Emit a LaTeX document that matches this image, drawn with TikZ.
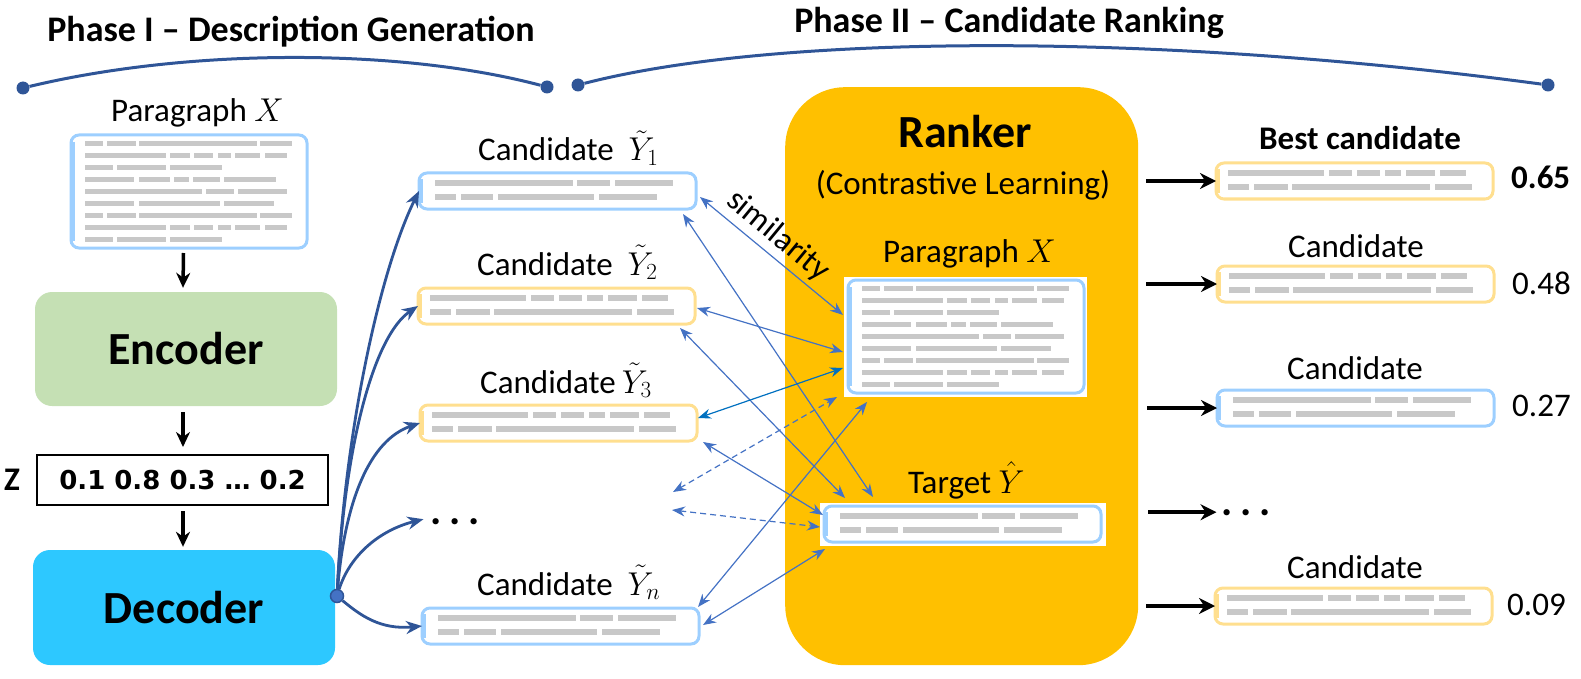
\RequirePackage{fix-cm}
\documentclass[tikz,border=0pt]{standalone}
\usepackage{fontspec}
\setmainfont{Carlito}
\newfontfamily\djv{DejaVu Sans}
\usetikzlibrary{arrows.meta,calc}
\definecolor{bluebd}{HTML}{9DCFFF}
\definecolor{yelbd}{HTML}{FFDF8F}
\definecolor{barc}{HTML}{C8C8C8}
\definecolor{dblue}{HTML}{2F5597}
\definecolor{tblue}{HTML}{4472C4}
\definecolor{dkb}{HTML}{0070C0}
\definecolor{rankc}{HTML}{FFC000}
\definecolor{encg}{HTML}{C5E0B4}
\definecolor{decc}{HTML}{2DC8FF}
% gray bars
\newcommand{\mygb}[3]{\fill[barc] (#1,#3-2.7) rectangle (#2,#3+2.7);}
\newcommand{\mypb}[3]{\fill[barc] (#1,#3-2.4) rectangle (#2,#3+2.4);}
\newcommand{\patA}{\mygb{16}{154}{10}\mygb{158}{191}{10}\mygb{196}{254}{10}%
 \mygb{16}{37}{24}\mygb{42}{74}{24}\mygb{79}{175}{24}\mygb{180}{238}{24}}
\newcommand{\patB}{\mygb{12}{108}{10}\mygb{113}{136}{10}\mygb{141}{164}{10}\mygb{169}{185}{10}\mygb{190}{219}{10}\mygb{224}{250}{10}%
 \mygb{12}{33}{24}\mygb{38}{72}{24}\mygb{76}{214}{24}\mygb{219}{256}{24}}
\newcommand{\rowone}[1]{\mypb{14}{32}{#1}\mypb{36}{65}{#1}\mypb{68}{186}{#1}\mypb{189}{221}{#1}}
\newcommand{\rowtwo}[1]{\mypb{14}{95}{#1}\mypb{99}{119}{#1}\mypb{123}{142}{#1}\mypb{147}{160}{#1}\mypb{164}{189}{#1}\mypb{194}{216}{#1}}
\newcommand{\rowthree}[1]{\mypb{14}{42}{#1}\mypb{46}{95}{#1}\mypb{99}{151}{#1}}
\newcommand{\rowfour}[1]{\mypb{14}{63}{#1}\mypb{68}{99}{#1}\mypb{103}{118}{#1}\mypb{122}{149}{#1}\mypb{153}{205}{#1}}
\newcommand{\rowfive}[1]{\mypb{14}{131}{#1}\mypb{135}{163}{#1}\mypb{167}{216}{#1}}
\newcommand{\rowsix}[1]{\mypb{14}{63}{#1}\mypb{68}{149}{#1}\mypb{153}{203}{#1}}
\newcommand{\parbars}{\rowone{8.5}\rowtwo{20.5}\rowthree{32.5}\rowfour{44.5}\rowfive{56.5}\rowsix{68.5}\rowone{80.5}\rowtwo{92.5}\rowthree{104.5}}
\newcommand{\mydots}{.\hspace{7.5pt}.\hspace{7.5pt}.}
% boxes
\newcommand{\candbox}[5]{%
 \node[cbox, draw=#4] (#1) at (#2,#3) {};
 \draw[#4, line width=3.5pt] ($(#1.north west)+(2.5,6)$) -- ($(#1.south west)+(2.5,-6)$);
 \begin{scope}[shift={(#1.north west)}] #5 \end{scope}}
\newcommand{\docbox}[3]{%
 \node[pbox] (#1) at (#2,#3) {};
 \draw[bluebd, line width=3.5pt] ($(#1.north west)+(2.5,7)$) -- ($(#1.south west)+(2.5,-7)$);
 \begin{scope}[shift={(#1.north west)}] \parbars \end{scope}}
\begin{document}
\begin{tikzpicture}[x=1pt,y=-1pt,
 txt/.style={inner sep=0, font=\fontsize{33}{40}\selectfont},
 btxt/.style={inner sep=0, font=\fontsize{33}{40}\selectfont\bfseries},
 ttl/.style={inner sep=0, font=\fontsize{36}{43}\selectfont\bfseries},
 big/.style={inner sep=0, font=\fontsize{46}{55}\selectfont\bfseries},
 dtxt/.style={inner sep=0, font=\fontsize{42}{42}\selectfont\bfseries},
 cbox/.style={anchor=north west, minimum width=277pt, minimum height=36pt, inner sep=0, outer sep=0, line width=3pt, rounded corners=8pt, fill=white},
 pbox/.style={anchor=north west, draw=bluebd, minimum width=236pt, minimum height=113pt, inner sep=0, outer sep=0, line width=3pt, rounded corners=8pt, fill=white},
 bdot/.style={circle, fill=dblue, inner sep=0, minimum size=13pt},
 brc/.style={draw=dblue, line width=3pt},
 blkarr/.style={line width=3.5pt, -{Stealth[length=15pt,width=14pt]}},
 rarr/.style={line width=4.5pt, -{Stealth[length=16pt,width=16pt]}},
 fan/.style={draw=dblue, line width=2.8pt, -{Stealth[length=16pt,width=13pt]}},
 thinarr/.style={draw=tblue, line width=1.2pt, {Stealth[length=13pt,width=10pt]}-{Stealth[length=13pt,width=10pt]}},
 dsh/.style={dash pattern=on 6pt off 4pt}]
\useasboundingbox (0,0) rectangle (1581,679);

% ---- headers
\node[ttl, anchor=base] (t1) at (291,42) {Phase I – Description Generation};
\node[ttl, anchor=base] (t2) at (1009,33) {Phase II – Candidate Ranking};
\node[bdot] (p1a) at (23,88) {};
\node[bdot] (p1b) at (547,87) {};
\draw[brc] (p1a) .. controls (190,48) and (400,48) .. (p1b);
\node[bdot] (p2a) at (578,85) {};
\node[bdot] (p2b) at (1548,85) {};
\draw[brc] (p2a) .. controls (780,33) and (1160,33) .. (p2b);

% ---- left column
\node[txt, anchor=base west] (lpx) at (111,122) {Paragraph $X$};
\docbox{ldoc}{71}{135}
\node[big, fill=encg, rounded corners=17pt, minimum width=302pt, minimum height=114pt] (enc) at (186,349) {Encoder};
\node[draw, line width=2pt, minimum width=291pt, minimum height=50pt, inner sep=0, font=\djv\bfseries\fontsize{26}{30}\selectfont] (zb) at (182.5,480) {0.1 0.8 0.3 … 0.2};
\node[btxt] (zl) at (12,480) {Z};
\node[big, fill=decc, rounded corners=17pt, minimum width=302pt, minimum height=115pt] (decn) at (184,607.5) {Decoder};
\draw[blkarr] ($(ldoc.south)+(-5.5,5)$) -- ($(enc.north)+(-3,-4)$);
\draw[blkarr] ($(enc.south)+(-3,6)$) -- ($(zb.north)+(0.5,-7)$);
\draw[blkarr] ($(zb.south)+(0.5,5)$) -- ($(decn.north)+(-1,-3)$);

% ---- candidates
\node[txt, anchor=base west] (l1) at (478,161) {Candidate~~$\tilde{Y}_1$};
\candbox{y1}{419}{173}{bluebd}{\patA}
\node[txt, anchor=base west] (l2) at (477,275) {Candidate~~$\tilde{Y}_2$};
\candbox{y2}{418}{288}{yelbd}{\patB}
\node[txt, anchor=base west] (l3) at (480,393) {Candidate\hspace{6pt}$\tilde{Y}_3$};
\candbox{y3}{420}{405}{yelbd}{\patB}
\node[dtxt, anchor=base] (dots1) at (455,524) {\mydots};
\node[txt, anchor=base west] (ln) at (477,595) {Candidate~~$\tilde{Y}_n$};
\candbox{yn}{422}{608}{bluebd}{\patA}

% ---- fan from decoder
\node[circle, fill=tblue, draw=dblue, line width=1.5pt, minimum size=13pt, inner sep=0] (dd) at (337,596) {};
\draw[fan] (dd) .. controls (345,430) and (380,270) .. (y1.west);
\draw[fan] (dd) .. controls (345,440) and (375,335) .. (y2.west);
\draw[fan] (dd) .. controls (345,500) and (370,440) .. (y3.west);
\draw[fan] (dd) .. controls (350,555) and (380,530) .. ($(dots1.west)+(-7,-2)$);
\draw[fan] (dd) .. controls (360,615) and (380,630) .. (yn.west);

% ---- ranker
\node[fill=rankc, rounded corners=60pt, minimum width=353pt, minimum height=578pt, anchor=north west, inner sep=0] (rk) at (785,87) {};
\node[big, anchor=base] (rkt) at (965,148) {Ranker};
\node[txt, anchor=base] (rks) at (963,195) {(Contrastive Learning)};
\node[txt, anchor=base west] (rpx) at (883,262) {Paragraph $X$};
\fill[white] (844,277) rectangle (1087,397);
\docbox{pd}{848}{280}
\node[txt, anchor=base west] (tgl) at (908,493) {Target $\hat{Y}$};
\fill[white] (820,503) rectangle (1106,546);
\candbox{tg}{824}{506}{bluebd}{\patA}

% ---- similarity connectors
\coordinate (dA) at (673,492);
\coordinate (dB) at (672,510);
\draw[thinarr] ($(y1.south east)+(4,-12)$) -- ($(pd.north west)+(-5,35)$);
\draw[thinarr] ($(y1.south east)+(-13,5)$) -- ($(tg.north west)+(49,-9)$);
\draw[thinarr] ($(y2.south east)+(2,-16)$) -- ($(pd.north west)+(-5,72)$);
\draw[thinarr] ($(y2.south east)+(-15,4)$) -- ($(tg.north west)+(21,-8)$);
\draw[thinarr, draw=dkb] ($(y3.south east)+(1,-23)$) -- ($(pd.north west)+(-5,88)$);
\draw[thinarr] ($(y3.south east)+(6,1)$) -- ($(tg.north west)+(-1,9)$);
\draw[thinarr, dsh] (dA) -- ($(pd.south west)+(-11,4)$);
\draw[thinarr, dsh] (dB) -- ($(tg.north west)+(-4,21)$);
\draw[thinarr] ($(yn.north east)+(-1,-1)$) -- ($(pd.south west)+(19,9)$);
\draw[thinarr] ($(yn.north east)+(4,17)$) -- ($(tg.south west)+(1,7)$);
\node[txt, rotate=-39.5] (sim) at (778,236) {similarity};

% ---- right column
\node[btxt, anchor=base] (bc) at (1360,150) {Best candidate};
\candbox{r1}{1216}{163}{yelbd}{\patB}
\node[btxt, anchor=base west] (s1) at (1511,189) {0.65};
\node[txt, anchor=base] (c2) at (1356,257) {Candidate};
\candbox{r2}{1217}{266}{yelbd}{\patB}
\node[txt, anchor=base west] (s2) at (1512,294) {0.48};
\node[txt, anchor=base] (c3) at (1355,379) {Candidate};
\candbox{r3}{1217}{390}{bluebd}{\patA}
\node[txt, anchor=base west] (s3) at (1512,416) {0.27};
\node[dtxt, anchor=base] (dots2) at (1246,515) {\mydots};
\node[txt, anchor=base] (c4) at (1355,578) {Candidate};
\candbox{r4}{1215}{588}{yelbd}{\patB}
\node[txt, anchor=base west] (s4) at (1507,615) {0.09};
\coordinate (a1) at (1146,181);
\coordinate (a2) at (1146,284);
\coordinate (a3) at (1147,408);
\coordinate (a4) at (1148,512);
\coordinate (a5) at (1146,606);
\coordinate (a4e) at ($(dots2.west)+(-5,0)$);
\draw[rarr] (a1) -- (r1.west);
\draw[rarr] (a2) -- (r2.west);
\draw[rarr] (a3) -- (r3.west);
\draw[rarr] (a4 |- a4e) -- (a4e);
\draw[rarr] (a5) -- (r4.west);
\end{tikzpicture}
\end{document}
